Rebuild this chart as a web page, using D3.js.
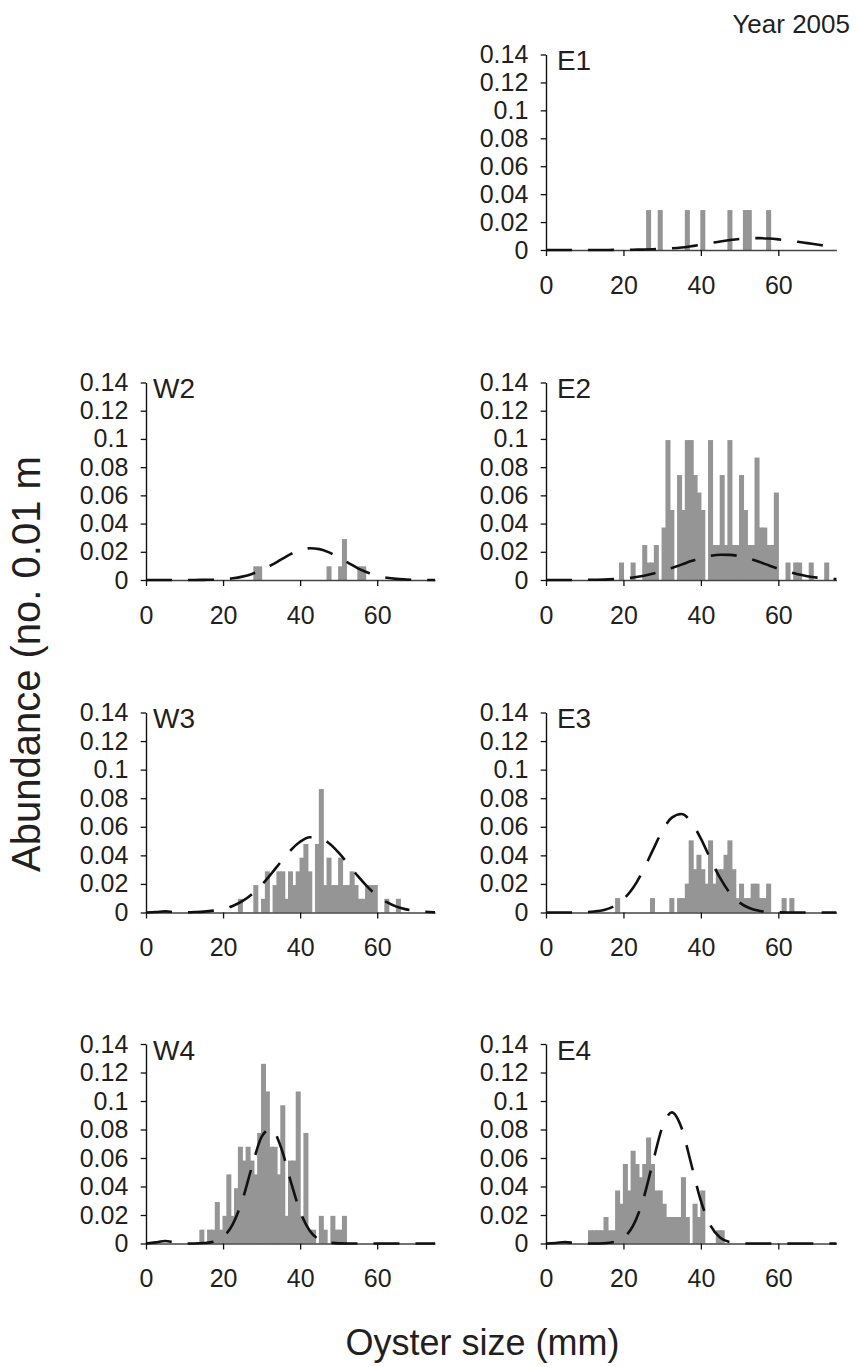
<!DOCTYPE html>
<html><head><meta charset="utf-8">
<script src="https://cdn.jsdelivr.net/npm/d3@7"></script>
<style>
html,body{margin:0;padding:0;background:#fff;}
svg{display:block;}
</style></head><body>
<svg id="chart" width="856" height="1367"></svg>
<script>
// ---------- DATA ----------
const sizeTicks = [0, 20, 40, 60];
const abundanceTicks = [0, 0.02, 0.04, 0.06, 0.08, 0.1, 0.12, 0.14];
const abundanceTickLabels = ["0", "0.02", "0.04", "0.06", "0.08", "0.1", "0.12", "0.14"];
const panelNames = ["E1", "W2", "E2", "W3", "E3", "W4", "E4"];

// histogram size classes (mm) and abundance (no. 0.01 m-2)
const e1Sizes = [26, 29, 36, 40, 47, 51, 52, 57];
const e1Abundance = [0.0286, 0.0286, 0.0286, 0.0286, 0.0286, 0.0286, 0.0286, 0.0286];

const w2Sizes = [28, 29, 47, 50, 51, 55, 56];
const w2Abundance = [0.0097, 0.0097, 0.0097, 0.0097, 0.029, 0.0097, 0.0097];

const e2Sizes = [19, 22, 25, 26, 27, 28, 30, 31, 32, 34, 35, 36, 37, 38, 39, 40, 42, 43, 44, 45, 46, 47, 48, 49, 50, 51, 52, 53, 54, 55, 56, 57, 58, 59, 62, 64, 65, 68, 72];
const e2Abundance = [0.0124, 0.0124, 0.0248, 0.0124, 0.0124, 0.0248, 0.0372, 0.0992, 0.0496, 0.0744, 0.0496, 0.0992, 0.0992, 0.0744, 0.062, 0.0496, 0.0992, 0.0248, 0.0248, 0.0744, 0.0248, 0.0992, 0.0248, 0.0248, 0.0744, 0.0496, 0.0248, 0.0248, 0.0868, 0.0372, 0.0372, 0.0248, 0.0248, 0.062, 0.0124, 0.0124, 0.0124, 0.0124, 0.0124];

const w3Sizes = [24, 28, 30, 31, 33, 34, 35, 36, 37, 38, 39, 40, 41, 42, 44, 45, 46, 47, 48, 49, 50, 51, 52, 53, 54, 55, 56, 57, 58, 59, 62, 65];
const w3Abundance = [0.0096, 0.0192, 0.0096, 0.0288, 0.0192, 0.0288, 0.0288, 0.0096, 0.0288, 0.0192, 0.0288, 0.0384, 0.048, 0.0288, 0.048, 0.0864, 0.0192, 0.0384, 0.0192, 0.0192, 0.0384, 0.0192, 0.0192, 0.0288, 0.0192, 0.0096, 0.0096, 0.0192, 0.0192, 0.0192, 0.0096, 0.0096];

const e3Sizes = [18, 27, 32, 34, 35, 36, 37, 38, 39, 40, 41, 42, 43, 44, 45, 46, 47, 48, 49, 50, 51, 52, 53, 54, 55, 56, 57, 61, 63];
const e3Abundance = [0.0101, 0.0101, 0.0101, 0.0101, 0.0101, 0.0202, 0.0505, 0.0303, 0.0404, 0.0303, 0.0202, 0.0505, 0.0202, 0.0303, 0.0303, 0.0404, 0.0505, 0.0303, 0.0101, 0.0202, 0.0101, 0.0101, 0.0202, 0.0202, 0.0101, 0.0101, 0.0202, 0.0101, 0.0101];

const w4Sizes = [14, 16, 17, 18, 19, 20, 21, 22, 23, 24, 25, 26, 27, 28, 29, 30, 31, 32, 33, 34, 35, 36, 37, 38, 39, 40, 41, 42, 43, 45, 46, 48, 49, 50, 51];
const w4Abundance = [0.0097, 0.0097, 0.0097, 0.0291, 0.0097, 0.0194, 0.0485, 0.0194, 0.0388, 0.0679, 0.0582, 0.0679, 0.0582, 0.0485, 0.0776, 0.1261, 0.1067, 0.0679, 0.0679, 0.0485, 0.097, 0.0194, 0.0582, 0.0582, 0.1067, 0.0194, 0.0776, 0.0097, 0.0097, 0.0194, 0.0097, 0.0194, 0.0097, 0.0097, 0.0194];

const e4Sizes = [11, 12, 13, 14, 15, 16, 17, 18, 19, 20, 21, 22, 23, 24, 25, 26, 27, 28, 29, 30, 31, 32, 33, 34, 35, 36, 38, 39, 40, 44, 45];
const e4Abundance = [0.0093, 0.0093, 0.0093, 0.0093, 0.0186, 0.0093, 0.0093, 0.0372, 0.0279, 0.0558, 0.0372, 0.0651, 0.0558, 0.0465, 0.0558, 0.0744, 0.0558, 0.0372, 0.0372, 0.0279, 0.0186, 0.0186, 0.0186, 0.0186, 0.0465, 0.0186, 0.0279, 0.0186, 0.0372, 0.0093, 0.0093];

// dashed fitted curves, read every 2.5 mm
const curveSizes = [0, 2.5, 5, 7.5, 10, 12.5, 15, 17.5, 20, 22.5, 25, 27.5, 30, 32.5, 35, 37.5, 40, 42.5, 45, 47.5, 50, 52.5, 55, 57.5, 60, 62.5, 65, 67.5, 70, 72.5, 75];
const e1Curve = [0, 0, 0, 0, 0, 0, 0, 0.0001, 0.0001, 0.0002, 0.0003, 0.0005, 0.0008, 0.0012, 0.0018, 0.0027, 0.0037, 0.0049, 0.0061, 0.0071, 0.0079, 0.0084, 0.0085, 0.0082, 0.0076, 0.0068, 0.0059, 0.0049, 0.0039, 0.0029, 0.0021];
const w2Curve = [0, 0, 0, 0, 0, 0, 0.0001, 0.0002, 0.0006, 0.0012, 0.0024, 0.0043, 0.0070, 0.0105, 0.0144, 0.0183, 0.0211, 0.0225, 0.0219, 0.0196, 0.0160, 0.0121, 0.0083, 0.0053, 0.0030, 0.0016, 0.0008, 0.0004, 0.0001, 0, 0];
const e2Curve = [0, 0, 0, 0, 0.0001, 0.0002, 0.0003, 0.0006, 0.0011, 0.0018, 0.0029, 0.0044, 0.0062, 0.0085, 0.0109, 0.0134, 0.0155, 0.0171, 0.0179, 0.0178, 0.0169, 0.0151, 0.0129, 0.0104, 0.0080, 0.0059, 0.0040, 0.0027, 0.0017, 0.0010, 0.0006];
const w3Curve = [0, 0.0003, 0.0008, 0.0002, 0.0001, 0.0003, 0.0006, 0.0013, 0.0025, 0.0046, 0.0079, 0.0128, 0.0193, 0.0271, 0.0355, 0.0434, 0.0495, 0.0527, 0.0523, 0.0485, 0.0419, 0.0338, 0.0254, 0.0179, 0.0117, 0.0072, 0.0041, 0.0022, 0.0011, 0.0005, 0.0002];
const e3Curve = [0, 0, 0, 0, 0.0002, 0.0007, 0.0018, 0.0043, 0.0092, 0.0173, 0.0290, 0.0431, 0.0570, 0.0664, 0.0689, 0.0633, 0.0517, 0.0373, 0.0240, 0.0136, 0.0069, 0.0031, 0.0012, 0.0004, 0.0001, 0, 0, 0, 0, 0, 0];
const w4Curve = [0, 0.0008, 0.0018, 0.0006, 0, 0, 0.0003, 0.0012, 0.0045, 0.0134, 0.0304, 0.0540, 0.0748, 0.0806, 0.0677, 0.0442, 0.0225, 0.0090, 0.0028, 0.0007, 0.0001, 0, 0, 0, 0, 0, 0, 0, 0, 0, 0];
const e4Curve = [0, 0.0004, 0.0010, 0.0003, 0, 0, 0.0002, 0.0010, 0.0040, 0.0125, 0.0299, 0.0558, 0.0812, 0.0920, 0.0812, 0.0558, 0.0299, 0.0125, 0.0040, 0.0010, 0.0002, 0, 0, 0, 0, 0, 0, 0, 0, 0, 0];

const panelSizes = [e1Sizes, w2Sizes, e2Sizes, w3Sizes, e3Sizes, w4Sizes, e4Sizes];
const panelAbundance = [e1Abundance, w2Abundance, e2Abundance, w3Abundance, e3Abundance, w4Abundance, e4Abundance];
const panelCurves = [e1Curve, w2Curve, e2Curve, w3Curve, e3Curve, w4Curve, e4Curve];

// ---------- LAYOUT ----------
const FONT = "'Liberation Sans', Arial, Helvetica, sans-serif";
const TEXT = "#231f20";
const panelCell = [[1, 0], [0, 1], [1, 1], [0, 2], [1, 2], [0, 3], [1, 3]]; // [col,row]
const colX = [[146, 435], [546, 836.4]];
const rowY = [[250, 54.5], [580, 382.5], [912.5, 712.5], [1243.5, 1044]];
const barStart = -0.15, barWidth = 1.3;

const svg = d3.select("#chart");
svg.append("rect").attr("width", 856).attr("height", 1367).attr("fill", "#fff");

panelNames.forEach((name, k) => {
  const [col, row] = panelCell[k];
  const x = d3.scaleLinear().domain([0, 75]).range(colX[col]);
  const y = d3.scaleLinear().domain([0, 0.14]).range(rowY[row]);
  const g = svg.append("g");

  const bars = panelSizes[k].map((s, i) => ({ s, v: panelAbundance[k][i] }));
  g.selectAll("rect.bar").data(bars).join("rect").attr("class", "bar")
    .attr("x", d => x(d.s + barStart))
    .attr("width", x(barWidth) - x(0))
    .attr("y", d => y(d.v))
    .attr("height", d => y(0) - y(d.v))
    .attr("fill", "#959595");

  const ya = g.append("g").attr("transform", `translate(${x(0)},0)`)
    .call(d3.axisLeft(y).tickValues(abundanceTicks)
      .tickFormat((d, i) => abundanceTickLabels[i])
      .tickSize(5.3).tickPadding(12.4).tickSizeOuter(0));
  ya.attr("font-family", FONT).attr("font-size", 25);
  ya.select(".domain").attr("stroke", "#111").attr("stroke-width", 1.4);
  ya.selectAll(".tick line").attr("stroke", "#111").attr("stroke-width", 1.3);
  ya.selectAll(".tick text").attr("fill", TEXT);

  const xa = g.append("g").attr("transform", `translate(0,${y(0)})`)
    .call(d3.axisBottom(x).tickValues(sizeTicks)
      .tickSize(6).tickPadding(19.75).tickSizeOuter(0));
  xa.attr("font-family", FONT).attr("font-size", 25);
  xa.select(".domain").attr("stroke", "#444").attr("stroke-width", 1.6);
  xa.selectAll(".tick line").attr("stroke", "#111").attr("stroke-width", 1.3);
  xa.selectAll(".tick text").attr("fill", TEXT);

  const line = d3.line()
    .x((d, i) => x(curveSizes[i]))
    .y(d => y(d))
    .curve(d3.curveMonotoneX);
  g.append("path").datum(panelCurves[k]).attr("d", line)
    .attr("fill", "none").attr("stroke", "#111")
    .attr("stroke-width", 2.6).attr("stroke-dasharray", "26,16");

  g.append("text").attr("x", x(0) + 28).attr("y", y(0.14) + 15.5)
    .attr("text-anchor", "middle").attr("font-family", FONT)
    .attr("font-size", 28).attr("fill", TEXT).text(name);
});

svg.append("text").attr("x", 850).attr("y", 33).attr("text-anchor", "end")
  .attr("font-family", FONT).attr("font-size", 26).attr("fill", TEXT).text("Year 2005");

svg.append("text").attr("transform", "translate(40,872) rotate(-90)")
  .attr("font-family", FONT).attr("font-size", 40).attr("fill", TEXT)
  .text("Abundance (no. 0.01 m");

svg.append("text").attr("x", 482.5).attr("y", 1355).attr("text-anchor", "middle")
  .attr("font-family", FONT).attr("font-size", 36).attr("fill", TEXT)
  .text("Oyster size (mm)");
</script>
</body></html>
